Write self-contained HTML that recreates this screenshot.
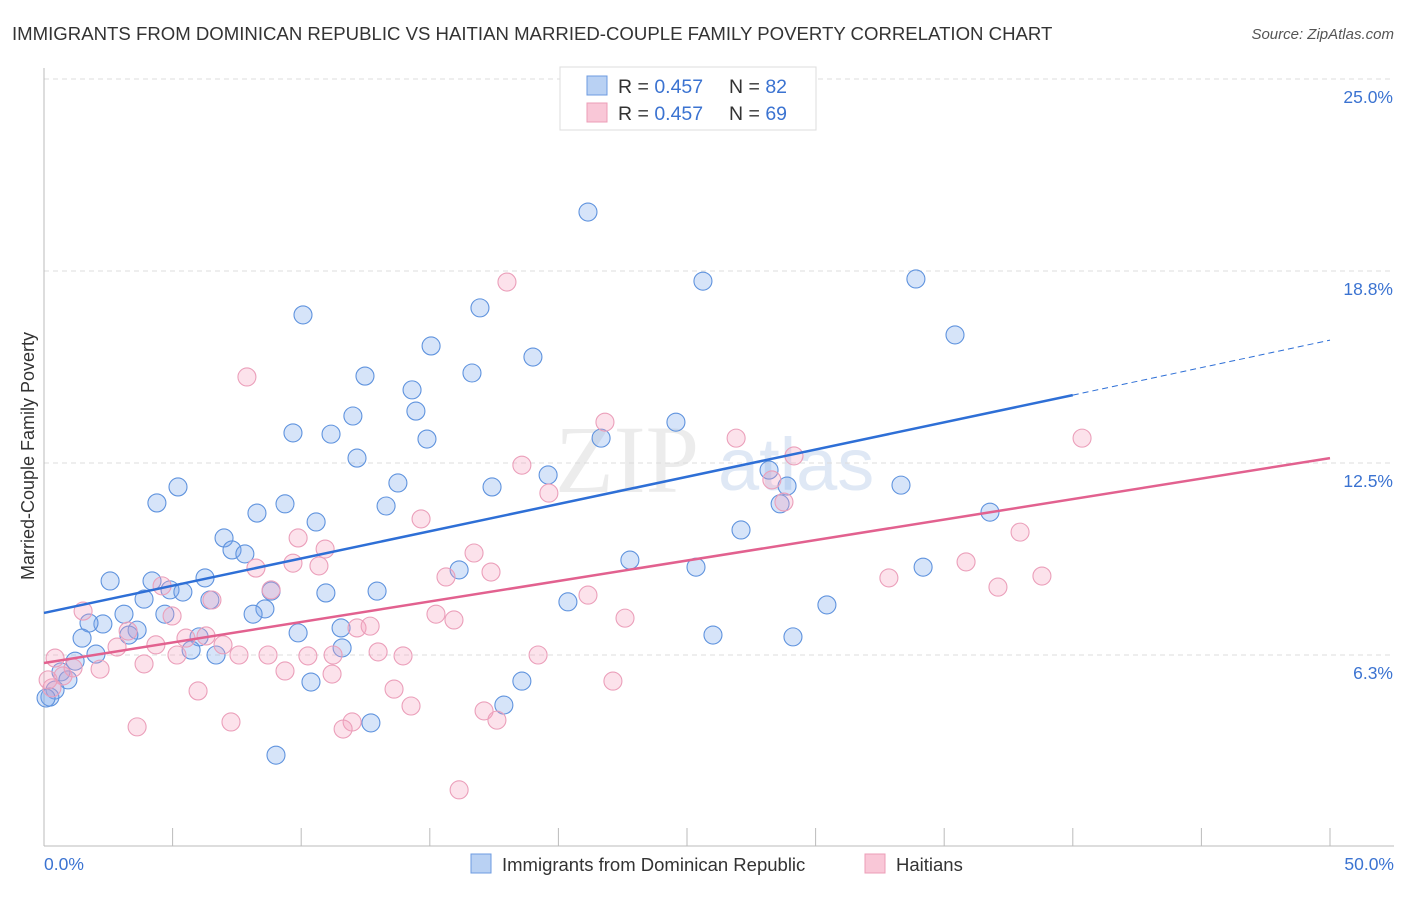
<!DOCTYPE html>
<html><head><meta charset="utf-8"><style>
body{margin:0;background:#fff;font-family:"Liberation Sans",sans-serif}
</style></head><body>
<svg width="1406" height="892" xmlns="http://www.w3.org/2000/svg">
<text x="12" y="40" font-size="18.6" fill="#333">IMMIGRANTS FROM DOMINICAN REPUBLIC VS HAITIAN MARRIED-COUPLE FAMILY POVERTY CORRELATION CHART</text>
<text x="1394" y="39" font-size="15" fill="#555" font-style="italic" text-anchor="end">Source: ZipAtlas.com</text>
<text x="555" y="492" font-size="96" font-family="Liberation Serif,serif" fill="#ececec">ZIP</text>
<text x="718" y="490" font-size="74" fill="#dfe8f5">atlas</text>
<g id="grid"></g>
<g id="axes"></g>
<g id="pts"></g>
<g id="trends"></g>
<text transform="translate(34,456) rotate(-90)" font-size="18" fill="#333" text-anchor="middle">Married-Couple Family Poverty</text>
<text x="44" y="870" font-size="17.5" fill="#3b73d1">0.0%</text>
<text x="1394" y="870" font-size="17.5" fill="#3b73d1" text-anchor="end">50.0%</text>
<g>
<rect x="560" y="67" width="256" height="63" fill="#fff" stroke="#ddd"/>
<rect x="587" y="76" width="20" height="19" fill="#b9d1f3" stroke="#6d9be0"/>
<rect x="587" y="103" width="20" height="19" fill="#f9c7d7" stroke="#ec9db7"/>
<text x="618" y="93" font-size="19.5" fill="#333">R = <tspan fill="#3b73d1">0.457</tspan></text>
<text x="729" y="93" font-size="19.5" fill="#333">N = <tspan fill="#3b73d1">82</tspan></text>
<text x="618" y="120" font-size="19.5" fill="#333">R = <tspan fill="#3b73d1">0.457</tspan></text>
<text x="729" y="120" font-size="19.5" fill="#333">N = <tspan fill="#3b73d1">69</tspan></text>
</g>
<g>
<rect x="471" y="854" width="20" height="19" fill="#b9d1f3" stroke="#6d9be0"/>
<text x="502" y="871" font-size="18.5" fill="#333">Immigrants from Dominican Republic</text>
<rect x="865" y="854" width="20" height="19" fill="#f9c7d7" stroke="#ec9db7"/>
<text x="896" y="871" font-size="18.5" fill="#333">Haitians</text>
</g>
</svg>
<script>
const yTicks=[25,18.75,12.5,6.25];
const yTickLabels=["25.0%","18.8%","12.5%","6.3%"];
const blueX=[21.15,25.62,33.90,35.42,10.07,16.95,15.05,19.01,12.48,16.64,14.31,14.46,12.01,9.68,11.16,14.89,21.66,24.57,12.17,19.60,28.19,13.76,17.42,28.89,33.32,5.21,4.39,9.37,13.30,8.28,10.58,28.62,36.78,27.10,7.00,7.31,7.81,22.78,16.14,25.35,34.18,2.57,4.20,6.26,4.90,5.40,3.89,6.45,10.96,12.95,8.83,20.37,30.44,3.11,4.70,8.59,8.13,2.29,3.62,1.75,3.30,1.48,9.88,11.55,26.01,29.12,6.03,5.72,11.59,2.02,6.69,1.21,0.66,0.93,10.38,18.58,0.43,0.23,17.88,12.71,9.02,0.08];
const blueY=[20.67,18.42,18.49,16.67,17.32,17.55,16.31,15.95,15.33,15.43,14.88,14.19,14.03,13.48,13.44,13.28,13.31,13.83,12.66,12.11,12.27,11.85,11.72,11.75,11.78,11.72,11.20,11.17,11.10,10.87,10.58,11.17,10.90,10.32,10.06,9.67,9.54,9.34,9.02,9.11,9.11,8.66,8.66,8.76,8.37,8.30,8.07,8.04,8.27,8.33,8.33,7.98,7.88,7.58,7.58,7.75,7.58,7.26,7.06,7.29,6.90,6.80,6.97,7.13,6.90,6.84,6.84,6.41,6.48,6.28,6.25,6.05,5.70,5.44,5.37,5.40,5.11,4.88,4.62,4.04,2.99,4.85];
const pinkX=[18.00,7.89,21.81,26.91,18.58,40.36,29.16,28.30,19.63,28.77,14.66,9.88,10.93,16.72,37.95,8.24,9.68,10.69,15.63,17.38,35.85,32.85,38.80,8.83,4.59,6.53,21.15,37.09,1.52,4.98,15.24,15.94,22.59,12.17,12.68,3.27,5.52,6.30,6.96,2.84,4.35,0.43,7.58,8.71,5.17,10.26,11.24,12.99,13.96,19.21,3.89,2.18,9.37,11.20,0.74,22.12,5.99,13.61,14.27,17.11,17.61,7.27,11.98,11.63,3.62,16.14,0.31,0.16,1.13];
const pinkY=[18.39,15.30,13.83,13.31,12.43,13.31,12.73,11.95,11.52,11.23,10.68,10.06,9.70,9.57,10.25,9.08,9.24,9.15,8.79,8.95,9.28,8.76,8.82,8.37,8.50,8.04,8.20,8.46,7.68,7.52,7.58,7.39,7.45,7.13,7.19,7.03,6.80,6.87,6.58,6.51,6.58,6.15,6.25,6.25,6.25,6.22,6.25,6.35,6.22,6.25,5.96,5.79,5.73,5.63,5.57,5.40,5.08,5.14,4.59,4.43,4.13,4.07,4.07,3.84,3.91,1.86,5.18,5.44,5.83];
const blueTrend=[7.62,14.71,16.50];
const pinkTrend=[5.99,12.66];
const NS="http://www.w3.org/2000/svg";
const X=v=>44+v*25.72, Y=v=>847-v*30.72;
function mk(tag,at,parent){const e=document.createElementNS(NS,tag);for(const k in at)e.setAttribute(k,at[k]);document.getElementById(parent).appendChild(e);return e;}
yTicks.forEach((t,i)=>{
 const l=mk('line',{x1:44,x2:1394,y1:Y(t),y2:Y(t),stroke:'#ddd','stroke-dasharray':'5,4'},'grid');
 
 
 const tx=mk('text',{x:1393,y:Y(t)+24,'font-size':17.5,fill:'#3b73d1','text-anchor':'end'},'grid');
 tx.textContent=yTickLabels[i];
 
 
});
let ax=mk('line',{x1:44,x2:44,y1:68,y2:846,stroke:'#bbb'},'axes');


ax=mk('line',{x1:44,x2:1394,y1:846,y2:846,stroke:'#bbb'},'axes');


for(let i=1;i<=10;i++){const t=mk('line',{x1:X(i*5),x2:X(i*5),y1:828,y2:846,stroke:'#bbb'},'axes');
 
 }
blueX.forEach((x,i)=>{const c=mk('circle',{cx:X(x),cy:Y(blueY[i]),r:9,fill:'rgba(120,165,235,0.3)',stroke:'#5f93de','stroke-width':1.1},'pts');
 
 });
pinkX.forEach((x,i)=>{const c=mk('circle',{cx:X(x),cy:Y(pinkY[i]),r:9,fill:'rgba(245,160,190,0.3)',stroke:'#eb9fba','stroke-width':1.1},'pts');
 
 });
let t=mk('line',{x1:X(0),y1:Y(blueTrend[0]),x2:X(40),y2:Y(blueTrend[1]),stroke:'#2e6fd6','stroke-width':2.5},'trends');


t=mk('line',{x1:X(40),y1:Y(blueTrend[1]),x2:X(50),y2:Y(blueTrend[2]),stroke:'#2e6fd6','stroke-width':1,'stroke-dasharray':'6,4'},'trends');


t=mk('line',{x1:X(0),y1:Y(pinkTrend[0]),x2:X(50),y2:Y(pinkTrend[1]),stroke:'#e2618f','stroke-width':2.5},'trends');


</script>
</body></html>
